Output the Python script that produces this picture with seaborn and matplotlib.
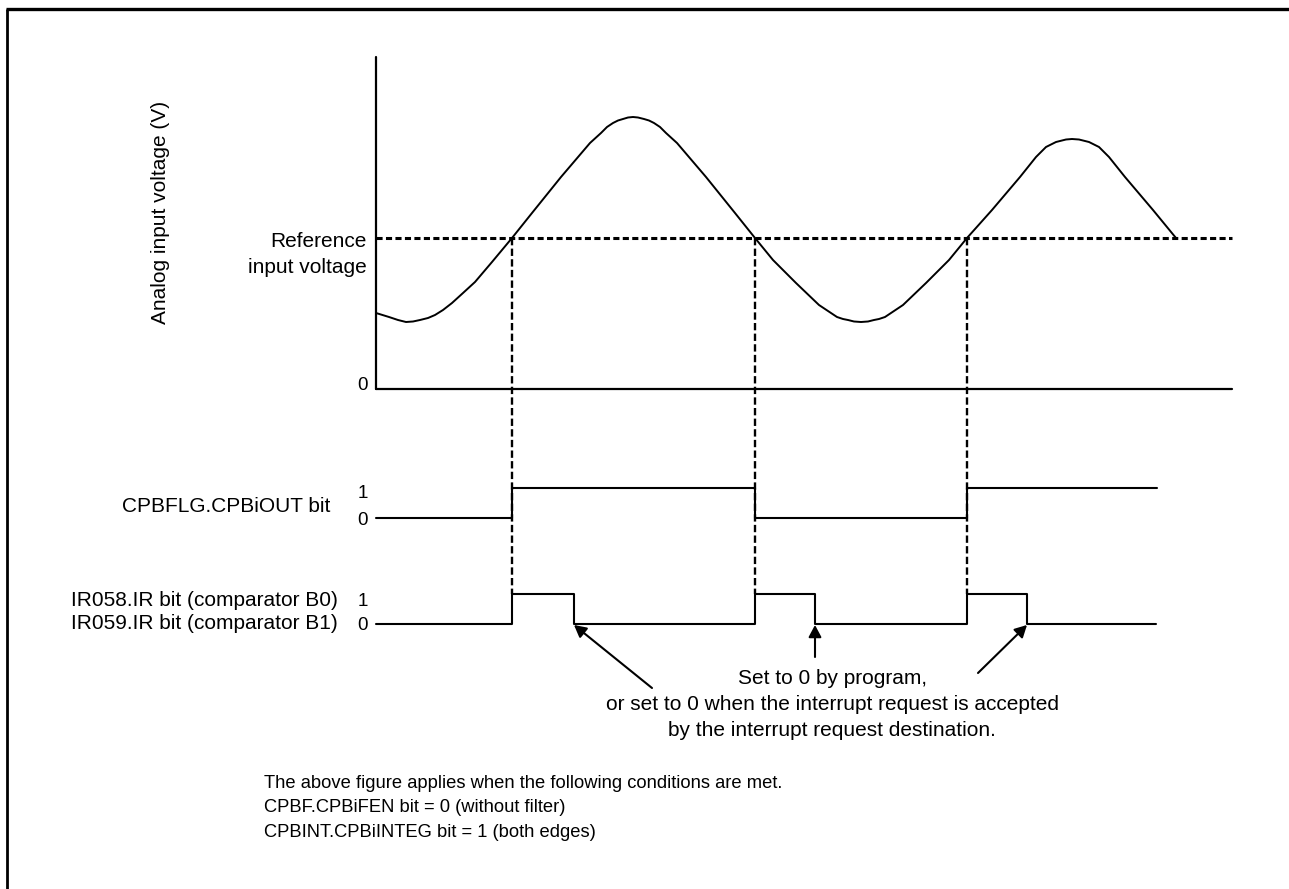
"""Comparator B timing diagram: analog input vs reference, CPBiOUT and IR bits."""
import matplotlib

matplotlib.use("Agg")
import matplotlib.pyplot as plt
import pandas as pd
import seaborn as sns

# time (px from the voltage axis) and voltage (px above the 0 line)
WAVE_T = [0, 13, 22, 30, 37, 44, 52, 59, 67, 76, 87, 99, 116, 136,
          156, 185, 214, 225, 231, 237, 242, 247, 252, 257, 262, 268, 273, 278, 284, 290,
          301, 330, 359, 379,
          397, 420, 443, 452, 461, 467, 472, 478, 485, 492, 498, 503, 509, 518, 527, 550, 573, 591,
          616, 644, 660, 670, 680, 690, 696, 703, 713, 723, 733, 749, 777, 800]
WAVE_V = [76, 72, 69, 67, 67.5, 69, 71, 74, 79, 86, 96, 107, 127, 151,
          176, 212, 246, 256, 262, 266, 268.5, 270, 271.5, 272, 271.5, 270, 268.5, 266, 262, 256,
          246, 212, 176, 151,
          129, 106, 84, 78, 72, 70, 69, 67.5, 67, 67.5, 69, 70, 72, 78, 84, 106, 129, 151,
          179, 212, 232, 242, 247, 249.5, 250, 249.5, 247, 242, 232, 212, 179, 151]
REF_V = 151
CROSS_T = [136, 379, 591]

OUT_T = [0, 136, 379, 591, 781]
OUT_V = [0, 1, 0, 1, 1]
IR_T = [0, 136, 198, 379, 439, 591, 651, 780]
IR_V = [0, 1, 0, 1, 0, 1, 0, 0]

CALLOUT = ["Set to 0 by program,",
           "or set to 0 when the interrupt request is accepted",
           "by the interrupt request destination."]
NOTES = ["The above figure applies when the following conditions are met.",
         "CPBF.CPBiFEN bit = 0 (without filter)",
         "CPBINT.CPBiINTEG bit = 1 (both edges)"]

# layout (pixels)
X0, Y0 = 376, 389          # origin of the analog plot
T_END, V_TOP = 856, 332
OUT_BASE, IR_BASE, STEP_H = 518, 623.5, 30

sns.set_theme(style="white")
plt.rcParams["font.family"] = ["Liberation Sans", "DejaVu Sans"]
plt.rcParams["text.color"] = "black"

fig = plt.figure(figsize=(12.89, 8.89), dpi=100)
ax = fig.add_axes([0, 0, 1, 1])

# analog waveform
wave = pd.DataFrame({"x": [X0 + t for t in WAVE_T], "y": [Y0 - v for v in WAVE_V]})
sns.lineplot(data=wave, x="x", y="y", ax=ax, color="black", lw=1.4,
             estimator=None, sort=False)

# axes of the analog plot
ax.plot([X0, X0], [Y0 - V_TOP, Y0], color="black", lw=1.6)
ax.plot([X0, X0 + T_END], [Y0, Y0], color="black", lw=1.6)
ax.hlines(Y0 - REF_V, X0, X0 + T_END, color="black", lw=2.2,
          linestyles=(0, (2.0, 1.1)))

# digital traces
out = pd.DataFrame({"x": [X0 + t for t in OUT_T], "y": [OUT_BASE - STEP_H * v for v in OUT_V]})
sns.lineplot(data=out, x="x", y="y", ax=ax, color="black", lw=1.5,
             estimator=None, drawstyle="steps-post")
ir = pd.DataFrame({"x": [X0 + t for t in IR_T], "y": [IR_BASE - STEP_H * v for v in IR_V]})
sns.lineplot(data=ir, x="x", y="y", ax=ax, color="black", lw=1.5,
             estimator=None, drawstyle="steps-post")

# dashed drop lines at the crossings
ax.vlines([X0 + t for t in CROSS_T], Y0 - REF_V, IR_BASE - STEP_H, color="black",
          lw=1.7, linestyles=(0, (3.1, 1.4)))

# labels
fs = 15
ax.text(160, 212, "Analog input voltage (V)", rotation=90, ha="center", va="center", fontsize=fs)
ax.text(367, 247, "Reference", ha="right", va="baseline", fontsize=fs)
ax.text(367, 273, "input voltage", ha="right", va="baseline", fontsize=fs)
ax.text(363, 390, "0", ha="center", va="baseline", fontsize=13.5)

ax.text(330, 511.5, "CPBFLG.CPBiOUT bit", ha="right", va="baseline", fontsize=fs)
ax.text(363, 498, "1", ha="center", va="baseline", fontsize=13.5)
ax.text(363, 525, "0", ha="center", va="baseline", fontsize=13.5)

ax.text(338, 606, "IR058.IR bit (comparator B0)", ha="right", va="baseline", fontsize=fs)
ax.text(338, 629, "IR059.IR bit (comparator B1)", ha="right", va="baseline", fontsize=fs)
ax.text(363, 606, "1", ha="center", va="baseline", fontsize=13.5)
ax.text(363, 630, "0", ha="center", va="baseline", fontsize=13.5)

# callout arrows to the falling edges of the IR bit
falls = [X0 + t1 for t1, v0, v1 in zip(IR_T[1:], IR_V, IR_V[1:]) if v0 == 1 and v1 == 0]
tails = [(652, 688), (815, 657), (978, 673)]
for tip_x, tail in zip(falls, tails):
    ax.annotate("", xy=(tip_x, 625), xytext=tail,
                arrowprops=dict(arrowstyle="-|>,head_length=0.6,head_width=0.32",
                                mutation_scale=12, color="black", lw=1.5,
                                shrinkA=0, shrinkB=0))

for line, y in zip(CALLOUT, [684, 710, 736]):
    ax.text(832, y, line, ha="center", va="baseline", fontsize=fs)

for line, y in zip(NOTES, [788, 812.5, 837]):
    ax.text(264, y, line, ha="left", va="baseline", fontsize=13.2)

# page frame (top and left edges)
ax.plot([7, 7], [8.5, 889], color="black", lw=2.0, solid_capstyle="butt")
ax.plot([5.7, 1289], [8.5, 8.5], color="black", lw=2.4, solid_capstyle="butt")

ax.set_xlim(0, 1289)
ax.set_ylim(889, 0)
ax.axis("off")

fig.savefig("out.png", dpi=100)
